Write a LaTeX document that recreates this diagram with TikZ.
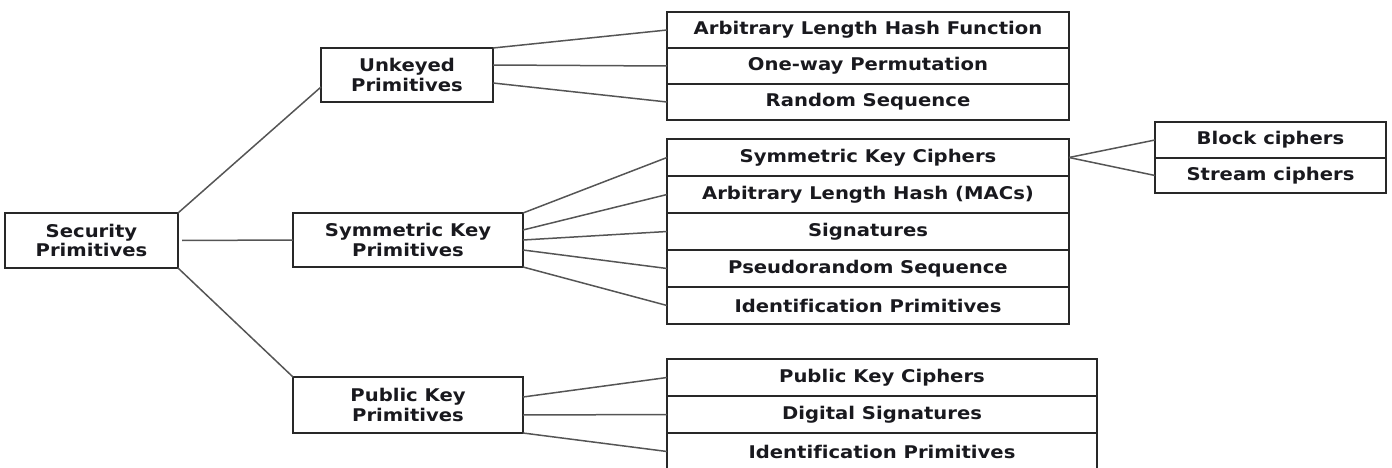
\documentclass[tikz,border=0pt]{standalone}
\usepackage{fontspec}
\setmainfont{DejaVu Sans}[FakeStretch=1.12, Ligatures=NoCommon]
\usepackage{tikz}
\usetikzlibrary{positioning,calc}
\definecolor{boxline}{RGB}{40,40,40}
\definecolor{linkline}{RGB}{85,85,85}
\definecolor{labeltext}{RGB}{25,25,30}

\tikzset{
  box/.style={draw=boxline, line width=1.4pt, inner sep=0pt, outer sep=0pt,
    text=labeltext, align=center, font=\fontsize{17.5}{19.5}\selectfont\bfseries},
  link/.style={draw=linkline, line width=1.5pt}
}

\begin{document}
\begin{tikzpicture}[x=1pt, y=-1pt]
  \useasboundingbox (0,0) rectangle (1392,468);

  % Root and second level
  \node[box, minimum width=173pt, minimum height=55pt] (sec) at (91.5,240.5) {Security\\Primitives};
  \node[box, minimum width=172pt, minimum height=54pt] (unk) at (407,75) {Unkeyed\\Primitives};
  \node[box, minimum width=230pt, minimum height=54pt] (sym) at (408,240) {Symmetric Key\\Primitives};
  \node[box, minimum width=230pt, minimum height=56pt] (pub) at (408,405) {Public Key\\Primitives};

  % Unkeyed leaves
  \foreach \i/\txt in {1/Arbitrary Length Hash Function, 2/One-way Permutation, 3/Random Sequence} {
    \node[box, minimum width=402pt, minimum height=36pt] (u\i) at (868,{12+36*(\i-0.5)}) {\txt};
  }

  % Symmetric key leaves
  \foreach \i/\txt in {1/Symmetric Key Ciphers, 2/Arbitrary Length Hash (MACs), 3/Signatures,
                       4/Pseudorandom Sequence, 5/Identification Primitives} {
    \node[box, minimum width=402pt, minimum height=37pt] (s\i) at (868,{139+37*(\i-0.5)}) {\txt};
  }

  % Public key leaves
  \foreach \i/\txt in {1/Public Key Ciphers, 2/Digital Signatures, 3/Identification Primitives} {
    \node[box, minimum width=430pt, minimum height=37pt] (p\i) at (882,{359+37*(\i-0.5)}) {\txt};
  }

  % Cipher kinds
  \node[box, minimum width=231pt, minimum height=36pt] (b1) at (1270.5,140) {Block ciphers};
  \node[box, minimum width=231pt, minimum height=35pt, below=0pt of b1] (b2) {Stream ciphers};

  % Links from the root
  \draw[link] (sec.north east) -- ([yshift=-12pt]unk.west);
  \draw[link] ([xshift=4pt]sec.east) -- (sym.west);
  \draw[link] (sec.south east) -- (pub.north west);

  % Links from Unkeyed
  \draw[link] (unk.north east) -- (u1.west);
  \draw[link] ([yshift=10pt]unk.east) -- (u2.west);
  \draw[link] ([yshift=-8pt]unk.east) -- (u3.west);

  % Links from Symmetric Key
  \draw[link] (sym.north east) -- (s1.west);
  \draw[link] ([yshift=10pt]sym.east) -- (s2.west);
  \draw[link] (sym.east) -- (s3.west);
  \draw[link] ([yshift=-10pt]sym.east) -- (s4.west);
  \draw[link] (sym.south east) -- (s5.west);

  % Links from Public Key
  \draw[link] ([yshift=8pt]pub.east) -- (p1.west);
  \draw[link] ([yshift=-10pt]pub.east) -- (p2.west);
  \draw[link] (pub.south east) -- (p3.west);

  % Cipher links
  \draw[link] (s1.east) -- (b1.west);
  \draw[link] (s1.east) -- (b2.west);

\end{tikzpicture}
\end{document}
